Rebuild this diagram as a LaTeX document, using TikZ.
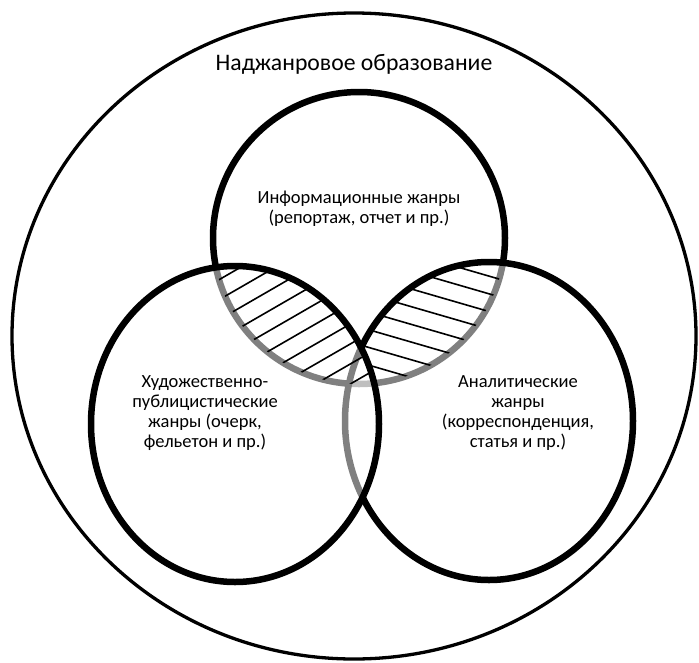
\documentclass[tikz,border=0pt]{standalone}
\usepackage{fontspec}
\setmainfont{Carlito}
\begin{document}
\begin{tikzpicture}[x=1pt,y=-1pt,
  circ/.style={draw=black,line width=6.5pt},
  veil/.style={fill=white,fill opacity=0.5},
  outerline/.style={draw=black,line width=3.3pt},
  hatch/.style={draw=black,line width=1.6pt},
  lbl/.style={align=center,font=\fontsize{18.5}{20}\selectfont,inner sep=0pt},
  ttl/.style={font=\fontsize{23.7}{27}\selectfont,inner sep=0pt}]
\useasboundingbox (0,0) rectangle (699,662);
\fill[white] (0,0) rectangle (699,662);
% outer
\draw[outerline] (354,336) ellipse [x radius=342, y radius=323];
% top circle (lowest layer)
\draw[circ] (359,238) circle [radius=146];
% right circle
\fill[veil] (489,421) ellipse [x radius=144, y radius=159];
\draw[circ] (489,421) ellipse [x radius=144, y radius=159];
% left circle (top layer)
\fill[veil] (235,424) ellipse [x radius=144, y radius=158];
\draw[circ] (235,424) ellipse [x radius=144, y radius=158];
% hatching of right lens (outside left circle)
\begin{scope}
  \clip (359,238) circle [radius=146];
  \clip (489,421) ellipse [x radius=144, y radius=159];
  \clip (0,0) -- (699,0) -- (699,662) -- (0,662) -- cycle
        (379,424) arc [start angle=360, end angle=0, x radius=144, y radius=158];
  \foreach \k in {-1,...,9}
    \draw[hatch] (300,{259+17.7*\k-0.29*130}) -- (600,{259+17.7*\k+0.29*170});
\end{scope}
% hatching of left lens
\begin{scope}
  \clip (359,238) circle [radius=146];
  \clip (235,424) ellipse [x radius=144, y radius=158];
  \foreach \k in {-1,...,9}
    \draw[hatch] (150,{233+20*\k+0.577*150}) -- (450,{233+20*\k-0.577*150});
\end{scope}
% labels
\node[ttl,anchor=base] (title) at (354,70) {Наджанровое образование};
\node[lbl] (info) at (359,209) {Информационные жанры\\(репортаж, отчет и пр.)};
\node[lbl] (art) at (205,413) {Художественно-\\публицистические\\жанры (очерк,\\фельетон и пр.)};
\node[lbl] (anal) at (518,413) {Аналитические\\жанры\\(корреспонденция,\\статья и пр.)};
\end{tikzpicture}
\end{document}
